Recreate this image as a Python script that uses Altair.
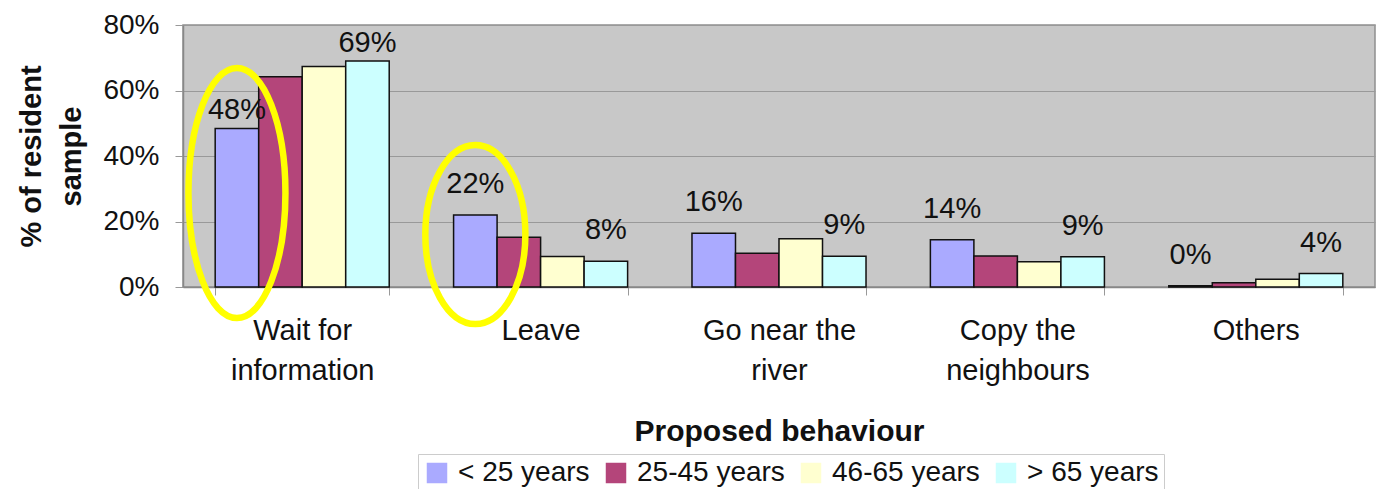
import altair as alt
import pandas as pd

categories = ["Wait for\ninformation", "Leave", "Go near the\nriver", "Copy the\nneighbours", "Others"]
series = ["< 25 years", "25-45 years", "46-65 years", "> 65 years"]
values = {
    "< 25 years":  [48.4, 22.0, 16.4, 14.4, 0.4],
    "25-45 years": [64.2, 15.2, 10.3, 9.5, 1.3],
    "46-65 years": [67.3, 9.3, 14.7, 7.7, 2.4],
    "> 65 years":  [69.0, 7.9, 9.4, 9.2, 4.1],
}
colors = ["#aaaaff", "#b4457a", "#ffffd0", "#ccffff"]
labelled_series = ["< 25 years", "> 65 years"]

rows = []
for s in series:
    for c, v in zip(categories, values[s]):
        rows.append({"category": c, "series": s, "value": v / 100})
df = pd.DataFrame(rows)

FONT = "Liberation Sans"

x_enc = alt.X("category:N", sort=categories, title="Proposed behaviour",
              scale=alt.Scale(domain=categories, paddingInner=0.27, paddingOuter=0.135),
              axis=alt.Axis(labelExpr="split(datum.label, '\\n')", labelAngle=0,
                            labelFontSize=29, labelLineHeight=40, labelPadding=21,
                            labelColor="#111", labelFont=FONT,
                            tickBand="extent", tickSize=8, tickColor="#999",
                            domainColor="#888", domainWidth=1.5,
                            titleFontSize=30, titleFont=FONT, titleFontWeight="bold",
                            titleColor="#111", titleY=153, titleBaseline="alphabetic",
                            grid=False))
xo_enc = alt.XOffset("series:N", sort=series,
                     scale=alt.Scale(domain=series, paddingInner=0, paddingOuter=0))
y_enc = alt.Y("value:Q", scale=alt.Scale(domain=[0, 0.8]),
              axis=alt.Axis(format=".0%", values=[0, 0.2, 0.4, 0.6, 0.8],
                            title=["% of resident", "sample"],
                            titleFontSize=29, titleFont=FONT, titleFontWeight="bold",
                            titleColor="#111", titleLineHeight=40,
                            titleAngle=270, titleAlign="center", titleBaseline="top",
                            titleX=-166, titleY=131,
                            labelFontSize=28, labelFont=FONT, labelColor="#111",
                            labelPadding=16, tickSize=8, tickColor="#999",
                            domainColor="#888", domainWidth=1.5,
                            gridColor="#999", gridWidth=1.2))

bars = alt.Chart(df).mark_bar(stroke="#111", strokeWidth=1.5).encode(
    x=x_enc,
    xOffset=xo_enc,
    y=y_enc,
    color=alt.Color("series:N", sort=series,
                    scale=alt.Scale(domain=series, range=colors),
                    legend=alt.Legend(title=None, orient="none", direction="horizontal",
                                      legendX=235, legendY=429,
                                      symbolType="square", symbolSize=420,
                                      symbolStrokeWidth=0, symbolOpacity=1,
                                      labelFontSize=28, labelFont=FONT, labelColor="#111",
                                      labelOffset=7, columnPadding=12,
                                      strokeColor="#cccccc", padding=5)),
)

lab_df = df[df["series"].isin(labelled_series)]
first = lab_df[lab_df["category"] == categories[0]]
rest = lab_df[lab_df["category"] != categories[0]]

def labels(d, gap):
    return alt.Chart(d).mark_text(fontSize=29, font=FONT, color="#111",
                                  baseline="middle", dy=gap).encode(
        x=alt.X("category:N", sort=categories),
        xOffset=alt.XOffset("series:N", sort=series),
        y="value:Q",
        text=alt.Text("value:Q", format=".0%"),
    )

# yellow ellipses highlighting the "< 25 years" bars
ell1 = pd.DataFrame({"category": [categories[0]], "series": [series[0]], "value": [0.287]})
ell2 = pd.DataFrame({"category": [categories[1]], "series": [series[0]], "value": [0.160]})

def ellipse(d, rx, size, dx):
    path = f"M -{rx} 0 A {rx} 1 0 1 0 {rx} 0 A {rx} 1 0 1 0 -{rx} 0 Z"
    return alt.Chart(d).mark_point(shape=path, size=size, filled=False,
                                   stroke="#ffff00", strokeWidth=6.5, opacity=1,
                                   dx=dx).encode(
        x=alt.X("category:N", sort=categories),
        xOffset=alt.XOffset("series:N", sort=series),
        y="value:Q",
    )

chart = alt.layer(
    bars,
    labels(first, -18),
    labels(rest, -31),
    ellipse(ell1, 0.388, 62500, 1),
    ellipse(ell2, 0.559, 32041, -8),
).properties(
    width=1192, height=262,
    autosize=alt.AutoSizeParams(type="none"),
    padding={"left": 183, "top": 25, "right": 7, "bottom": 202},
    background="white",
).configure_view(
    fill="#c8c8c8", stroke="#8f8f8f", strokeWidth=1.5,
)

chart.save("out.html", embed_options={"renderer": "svg", "actions": False})
